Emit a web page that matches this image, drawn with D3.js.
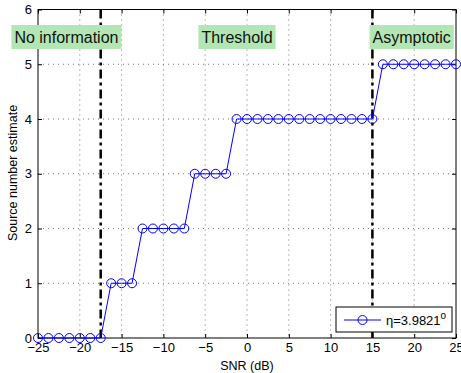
<!DOCTYPE html>
<html><head><meta charset="utf-8">
<script src="https://cdn.jsdelivr.net/npm/d3@7"></script>
<style>body{margin:0;background:#fff}svg{display:block}text{font-family:"Liberation Sans",Arial,sans-serif}</style>
</head><body>
<script>
const snr = [-25,-23.75,-22.5,-21.25,-20,-18.75,-17.5,-16.25,-15,-13.75,-12.5,-11.25,-10,-8.75,-7.5,-6.25,-5,-3.75,-2.5,-1.25,0,1.25,2.5,3.75,5,6.25,7.5,8.75,10,11.25,12.5,13.75,15,16.25,17.5,18.75,20,21.25,22.5,23.75,25];
const estimate = [0,0,0,0,0,0,0,1,1,1,2,2,2,2,2,3,3,3,3,4,4,4,4,4,4,4,4,4,4,4,4,4,4,5,5,5,5,5,5,5,5];
const xTicks = [-25,-20,-15,-10,-5,0,5,10,15,20,25];
const yTicks = [0,1,2,3,4,5,6];
const regionLines = [-17.5, 15];
const regionLabels = [{text:"No information", x:-21.6}, {text:"Threshold", x:-1.2}, {text:"Asymptotic", x:19.7}];
const legendLabel = "η=3.9821";

const W=461,H=373;
const svg=d3.select("body").append("svg").attr("width",W).attr("height",H);
const L=38,R=456,T=9.5,B=338;
const x=d3.scaleLinear().domain([-25,25]).range([L,R]);
const y=d3.scaleLinear().domain([0,6]).range([B,T]);

// grid
const g=svg.append("g");
xTicks.slice(1,-1).forEach(t=>g.append("line").attr("x1",x(t)).attr("x2",x(t)).attr("y1",T).attr("y2",B).attr("stroke","#777").attr("stroke-width",1).attr("stroke-dasharray","1,4"));
yTicks.slice(1,-1).forEach(t=>g.append("line").attr("x1",L).attr("x2",R).attr("y1",y(t)).attr("y2",y(t)).attr("stroke","#777").attr("stroke-width",1).attr("stroke-dasharray","1,4"));

// axes
const fmt=d=>d<0?"\u2212"+(-d):String(d);
const xa=svg.append("g").attr("transform",`translate(0,${B})`).call(d3.axisBottom(x).tickValues(xTicks).tickSizeInner(-4).tickSizeOuter(0).tickPadding(6).tickFormat(fmt));
const xt=svg.append("g").attr("transform",`translate(0,${T})`).call(d3.axisTop(x).tickValues(xTicks).tickSizeInner(-4).tickSizeOuter(0).tickFormat(""));
const ya=svg.append("g").attr("transform",`translate(${L},0)`).call(d3.axisLeft(y).tickValues(yTicks).tickSizeInner(-4).tickSizeOuter(0).tickPadding(6).tickFormat(d3.format("d")));
const yr=svg.append("g").attr("transform",`translate(${R},0)`).call(d3.axisRight(y).tickValues(yTicks).tickSizeInner(-4).tickSizeOuter(0).tickFormat(""));
[xa,xt,ya,yr].forEach(a=>{a.select(".domain").remove();a.selectAll("line").attr("stroke","#000");a.selectAll("text").attr("font-size",13).attr("fill","#000").attr("font-family","Liberation Sans, Arial, sans-serif");});
xa.selectAll("text").attr("dy","0.71em").attr("y",5);
svg.append("rect").attr("x",L).attr("y",T).attr("width",R-L).attr("height",B-T).attr("fill","none").attr("stroke","#000").attr("stroke-width",1);

// region lines
regionLines.forEach(v=>svg.append("line").attr("x1",x(v)).attr("x2",x(v)).attr("y1",T).attr("y2",B).attr("stroke","#000").attr("stroke-width",2.5).attr("stroke-dasharray","9,4,3,4"));

// series
svg.append("path").datum(snr.map((s,i)=>[s,estimate[i]])).attr("fill","none").attr("stroke","#0000ff").attr("stroke-width",1)
  .attr("d",d3.line().x(d=>x(d[0])).y(d=>y(d[1])));
svg.append("g").selectAll("circle").data(snr.map((s,i)=>[s,estimate[i]])).join("circle")
  .attr("cx",d=>x(d[0])).attr("cy",d=>y(d[1])).attr("r",4.5).attr("fill","none").attr("stroke","#0000ff").attr("stroke-width",1);

// region labels
regionLabels.forEach(r=>{
  const grp=svg.append("g");
  const rect=grp.append("rect").attr("fill","#b2e6b2");
  const t=grp.append("text").attr("x",x(r.x)).attr("y",43).attr("text-anchor","middle").attr("font-size",16).attr("fill","#111").text(r.text);
  const bb=t.node().getBBox();
  rect.attr("x",bb.x-3).attr("y",25).attr("width",bb.width+6).attr("height",24);
});

// legend
const lg=svg.append("g");
lg.append("rect").attr("x",336).attr("y",307).attr("width",116).attr("height",25).attr("fill","#fff").attr("stroke","#000").attr("stroke-width",1);
lg.append("line").attr("x1",344).attr("x2",381).attr("y1",320).attr("y2",320).attr("stroke","#0000ff");
lg.append("circle").attr("cx",362.5).attr("cy",320).attr("r",4.5).attr("fill","none").attr("stroke","#0000ff");
const lt=lg.append("text").attr("x",386).attr("y",325).attr("font-size",13).attr("fill","#000").text(legendLabel);
lt.append("tspan").attr("dy",-6).attr("font-size",10).text("o");

// axis labels
svg.append("text").attr("x",247).attr("y",370).attr("text-anchor","middle").attr("font-size",12.5).text("SNR (dB)");
svg.append("text").attr("transform","translate(17,173) rotate(-90)").attr("text-anchor","middle").attr("font-size",12.5).text("Source number estimate");
</script>
</body></html>
